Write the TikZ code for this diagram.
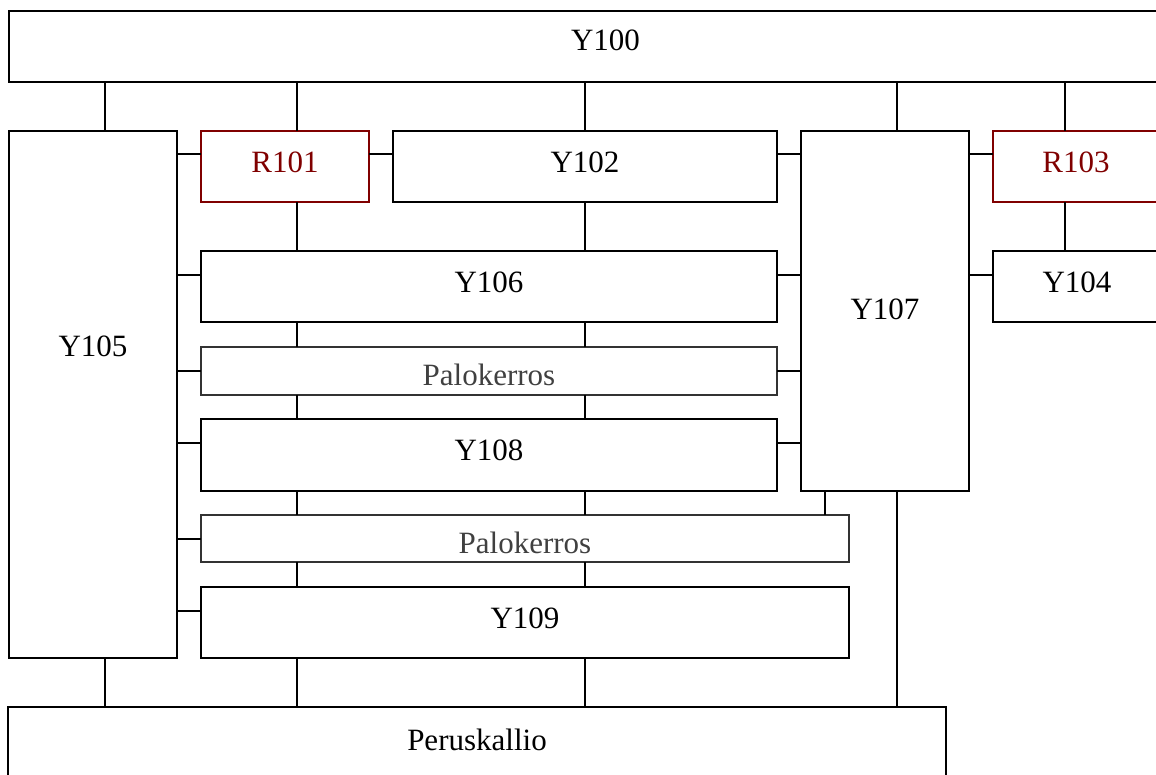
\documentclass[tikz,border=0pt]{standalone}
\usepackage{fontspec}
\setmainfont{Liberation Serif}
\definecolor{darkred}{HTML}{800000}
\definecolor{palogray}{HTML}{333333}
\definecolor{palotext}{HTML}{404040}
\begin{document}
\begin{tikzpicture}[x=1pt,y=-1pt,
  box/.style={draw, line width=1.9pt, inner sep=0pt, outer sep=0pt, anchor=north west,
    font=\fontsize{31}{37}\selectfont, align=center},
  rbox/.style={box, draw=darkred, text=darkred},
  pbox/.style={draw=palogray, line width=1.6pt, inner sep=0pt, outer sep=0pt, anchor=north west},
  ptext/.style={text=palotext, inner sep=0pt, anchor=base, font=\fontsize{31}{37}\selectfont},
  conn/.style={line width=1.4pt}]
\useasboundingbox (0,0) rectangle (1156,774);
\clip (0,0) rectangle (1156,774);
% boxes
\node[box, minimum width=1193pt, text height=39.5pt, text depth=31.5pt] (Y100) at (9,11) {Y100};
\node[box, minimum width=168pt, text height=225pt, text depth=302pt] (Y105) at (9,131) {Y105};
\node[rbox, minimum width=168pt, text height=41pt, text depth=30pt] (R101) at (201,131) {R101};
\node[box, minimum width=384pt, text height=41pt, text depth=30pt] (Y102) at (393,131) {Y102};
\node[box, minimum width=168pt, text height=188pt, text depth=172pt] (Y107) at (801,131) {Y107};
\node[rbox, minimum width=166pt, text height=41pt, text depth=30pt] (R103) at (993,131) {R103};
\node[box, minimum width=168pt, text height=41pt, text depth=30pt] (Y104) at (993,251) {Y104};
\node[box, minimum width=576pt, text height=41pt, text depth=30pt] (Y106) at (201,251) {Y106};
\node[pbox, minimum width=576pt, minimum height=48pt] (P1) at (201,347) {};
\node[box, minimum width=576pt, text height=41pt, text depth=31pt] (Y108) at (201,419) {Y108};
\node[pbox, minimum width=648pt, minimum height=47pt] (P2) at (201,515) {};
\node[box, minimum width=648pt, text height=41pt, text depth=30pt] (Y109) at (201,587) {Y109};
\node[box, minimum width=938pt, text height=43pt, text depth=60pt] (Per) at (8,707) {Peruskallio};
% clipped Palokerros texts
\begin{scope}
\clip (P1.north west) rectangle ([yshift=-38pt]P1.north east);
\node[ptext] (P1t) at ([yshift=-38.5pt]P1.north) {Palokerros};
\end{scope}
\begin{scope}
\clip (P2.north west) rectangle ([yshift=-38pt]P2.north east);
\node[ptext] (P2t) at ([yshift=-38.5pt]P2.north) {Palokerros};
\end{scope}
% column and row coordinates
\coordinate (cA) at (105,0);
\coordinate (cB) at (297,0);
\coordinate (cC) at (585,0);
\coordinate (cD) at (897,0);
\coordinate (cE) at (1065,0);
\coordinate (cF) at (825,0);
\coordinate (rA) at (0,154);
\coordinate (rB) at (0,275);
\coordinate (rC) at (0,371);
\coordinate (rD) at (0,443);
\coordinate (rE) at (0,539);
\coordinate (rF) at (0,611);
% vertical connectors
\draw[conn] (Y100.south -| cA) -- (Y105.north -| cA);
\draw[conn] (Y100.south -| cB) -- (R101.north -| cB);
\draw[conn] (Y100.south -| cC) -- (Y102.north -| cC);
\draw[conn] (Y100.south -| cD) -- (Y107.north -| cD);
\draw[conn] (Y100.south -| cE) -- (R103.north -| cE);
\draw[conn] (R103.south -| cE) -- (Y104.north -| cE);
\draw[conn] (R101.south -| cB) -- (Y106.north -| cB);
\draw[conn] (Y102.south -| cC) -- (Y106.north -| cC);
\draw[conn] (Y106.south -| cB) -- (P1.north -| cB);
\draw[conn] (Y106.south -| cC) -- (P1.north -| cC);
\draw[conn] (P1.south -| cB) -- (Y108.north -| cB);
\draw[conn] (P1.south -| cC) -- (Y108.north -| cC);
\draw[conn] (Y108.south -| cB) -- (P2.north -| cB);
\draw[conn] (Y108.south -| cC) -- (P2.north -| cC);
\draw[conn] (Y107.south -| cF) -- (P2.north -| cF);
\draw[conn] (P2.south -| cB) -- (Y109.north -| cB);
\draw[conn] (P2.south -| cC) -- (Y109.north -| cC);
\draw[conn] (Y109.south -| cB) -- (Per.north -| cB);
\draw[conn] (Y109.south -| cC) -- (Per.north -| cC);
\draw[conn] (Y105.south -| cA) -- (Per.north -| cA);
\draw[conn] (Y107.south -| cD) -- (Per.north -| cD);
% horizontal connectors
\draw[conn] (Y105.east |- rA) -- (R101.west |- rA);
\draw[conn] (R101.east |- rA) -- (Y102.west |- rA);
\draw[conn] (Y102.east |- rA) -- (Y107.west |- rA);
\draw[conn] (Y107.east |- rA) -- (R103.west |- rA);
\draw[conn] (Y105.east |- rB) -- (Y106.west |- rB);
\draw[conn] (Y106.east |- rB) -- (Y107.west |- rB);
\draw[conn] (Y107.east |- rB) -- (Y104.west |- rB);
\draw[conn] (Y105.east |- rC) -- (P1.west |- rC);
\draw[conn] (P1.east |- rC) -- (Y107.west |- rC);
\draw[conn] (Y105.east |- rD) -- (Y108.west |- rD);
\draw[conn] (Y108.east |- rD) -- (Y107.west |- rD);
\draw[conn] (Y105.east |- rE) -- (P2.west |- rE);
\draw[conn] (Y105.east |- rF) -- (Y109.west |- rF);
\end{tikzpicture}
\end{document}
